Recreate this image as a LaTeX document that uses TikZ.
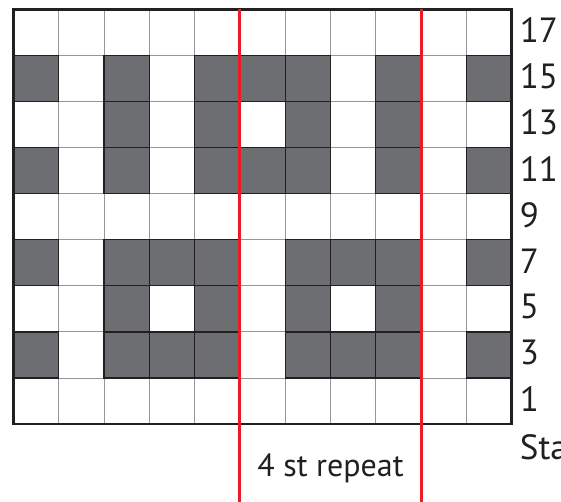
\documentclass[tikz,border=0pt]{standalone}
\usepackage{fontspec}
\setmainfont{PT Sans}
\usepackage{tikz}
\usetikzlibrary{arrows.meta,calc}
\usepackage{xcolor}
\definecolor{cellgray}{RGB}{109, 110, 113}
\definecolor{linegray}{RGB}{150, 150, 150}
\definecolor{repred}{RGB}{237, 28, 36}
\definecolor{txtclr}{RGB}{35, 31, 32}
\tikzset{
  % Grid lines
  gridline/.style   = {draw=linegray, line width=0.9pt},
  border/.style     = {draw=txtclr, line width=2.5pt},
  % Filled stitches
  darkcell/.style   = {fill=cellgray, draw=txtclr, line width=1.2pt},
  % Repeat markers
  repline/.style    = {draw=repred, line width=3pt},
  % Labels
  rowlab/.style     = {font=\fontsize{35}{42}\selectfont, txtclr, inner sep=0pt, anchor=west},
  replab/.style     = {font=\fontsize{32}{38}\selectfont, txtclr, inner sep=0pt, anchor=base},
}
\begin{document}
\begin{tikzpicture}[x=45.3pt, y=46.06pt]
  \useasboundingbox (-0.296,-1.672) rectangle (12.088,9.206);
  % Background grid
  \draw[gridline, step=1] (0,0) grid (11,9);
  % Dark stitches
  \foreach \r/\cols in {1/{1,3,4,5,7,8,9,11}, 2/{3,5,7,9}, 3/{1,3,4,5,7,8,9,11},
                         5/{1,3,5,6,7,9,11}, 6/{3,5,7,9}, 7/{1,3,5,6,7,9,11}}
    \foreach \c in \cols
      \draw[darkcell] (\c-1,\r) rectangle ++(1,1);
  % Outline
  \draw[border] (0,0) rectangle (11,9);
  % Repeat lines
  \coordinate (repAtop) at (5,9);
  \coordinate (repAbot) at (5,-1.75);
  \coordinate (repBtop) at (9,9);
  \coordinate (repBbot) at (9,-1.75);
  \draw[repline] (repAtop) -- (repAbot);
  \draw[repline] (repBtop) -- (repBbot);
  % Row numbers
  \foreach \r [evaluate=\r as \n using int(2*\r+1)] in {0,...,8}
    \node[rowlab] (row\n) at ([xshift=8pt, yshift=2pt]11,\r+0.5) {\n};
  \node[rowlab, anchor=base west] (start) at ([xshift=8pt]11,-0.78) {Start};
  \node[replab] (repeat) at (7,-1.144) {4 st repeat};
\end{tikzpicture}
\end{document}
